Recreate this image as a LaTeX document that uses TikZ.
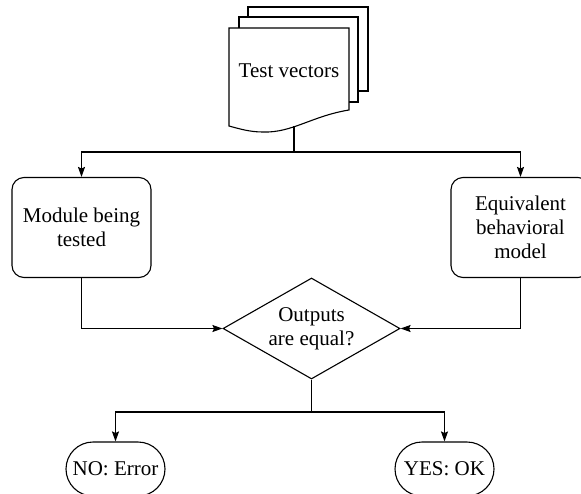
\documentclass[tikz,border=0pt]{standalone}
\usepackage{fontspec}
\setmainfont{Liberation Serif}
\usetikzlibrary{arrows.meta,shapes.geometric,shapes.misc}
\begin{document}
\begin{tikzpicture}[x=1pt,y=-1pt,
  line width=1.1pt,
  every node/.style={font=\fontsize{21}{24}\selectfont},
  arr/.style={-{Stealth[length=10pt,width=7pt,inset=1.5pt]}},
  box/.style={draw,rounded corners=12pt,minimum width=139pt,minimum height=100pt,align=center,inner sep=0pt},
  decision/.style={draw,diamond,aspect=1.75,minimum width=177pt,minimum height=101pt,inner sep=0pt,align=center},
  terminal/.style={draw,rounded rectangle,minimum width=103pt,minimum height=54pt,inner sep=2pt},
  doc/.style={draw,fill=white,line join=miter}]
\useasboundingbox (0,0) rectangle (581,493);

% stacked test-vector documents, back to front
\path[doc] (248,17) -- (248,7) -- (368,7) -- (368,91) -- (358,91);
\path[doc] (239,28) -- (239,17) -- (358,17) -- (358,102) -- (349,102);
\path[doc] (229,28) -- (349,28) -- (349,110)
  .. controls (312,116) and (292,133) .. (263,132)
  .. controls (250,132) and (240,129) .. (229,126) -- cycle;
\node (tv) at (289,71) {Test vectors};
\coordinate (tvbot) at (294,126);
\coordinate (split) at (294,152);

\node[box] (mod) at (81.5,227.5) {Module being\\tested};
\node[box] (ref) at (520.5,227.5) {Equivalent\\behavioral\\model};
\node[decision] (cmp) at (311.5,328.5) {Outputs\\are equal?};
\coordinate (join) at (311.5,412);
\node[terminal] (no) at (115.5,469) {NO: Error};
\node[terminal] (yes) at (444.5,469) {YES: OK};

\draw (tvbot) -- (split);
\draw[arr] (split) -| (mod.north);
\draw[arr] (split) -| (ref.north);
\draw[arr] (mod.south) |- (cmp.west);
\draw[arr] (ref.south) |- (cmp.east);
\draw (cmp.south) -- (join);
\draw[arr] (join) -| (no.north);
\draw[arr] (join) -| (yes.north);
\end{tikzpicture}
\end{document}
